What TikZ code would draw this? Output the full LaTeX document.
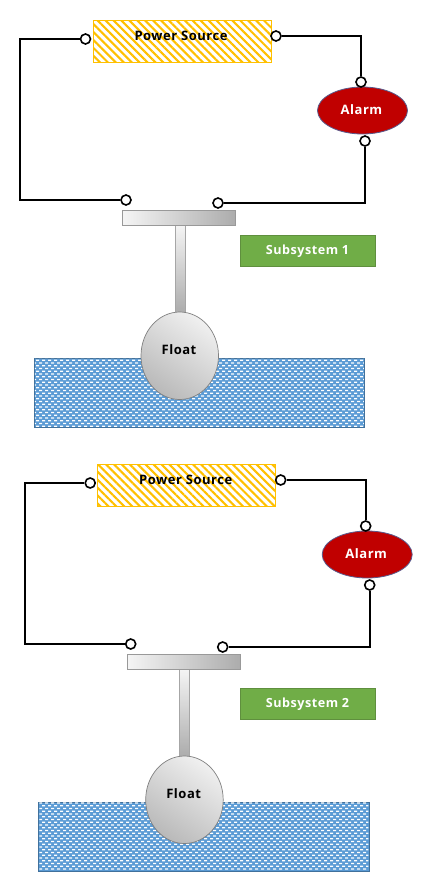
\documentclass[tikz,border=0pt]{standalone}
\usepackage{fontspec}
\setmainfont[LetterSpace=4]{Open Sans}
\usetikzlibrary{patterns,patterns.meta,shapes.geometric,calc}
\definecolor{hatchY}{HTML}{FFC000}
\definecolor{waterB}{HTML}{5B9BD5}
\definecolor{waterE}{HTML}{41719C}
\definecolor{alarmR}{HTML}{C00000}
\definecolor{alarmE}{HTML}{5A5A8C}
\definecolor{subG}{HTML}{70AD47}
\definecolor{subE}{HTML}{5F8F3E}
\pgfdeclarepatternformonly{brickdots}{\pgfqpoint{-1pt}{-1pt}}{\pgfqpoint{7pt}{7pt}}{\pgfqpoint{6pt}{5.5pt}}{%
  \pgfpathrectangle{\pgfqpoint{0pt}{0pt}}{\pgfqpoint{3.2pt}{1.3pt}}%
  \pgfpathrectangle{\pgfqpoint{3pt}{2.75pt}}{\pgfqpoint{3.2pt}{1.3pt}}%
  \pgfusepath{fill}}
\tikzset{
  x=1pt,y=-1pt,
  wire/.style={line width=1.7pt,black},
  term/.style={circle,draw=black,line width=1.6pt,fill=white,minimum size=10pt,inner sep=0pt},
  powerbox/.style={rectangle,draw=hatchY,line width=.8pt,minimum width=178pt,minimum height=41.5pt,inner sep=0pt,
    pattern={Lines[angle=-45,distance=5.6pt,line width=2.1pt]},pattern color=hatchY},
  alarmnode/.style={ellipse,draw=alarmE,line width=.8pt,fill=alarmR,minimum width=90pt,minimum height=47pt,inner sep=0pt},
  barnode/.style={rectangle,draw=gray!80,line width=.6pt,left color=gray!8,right color=gray!65,minimum width=113pt,minimum height=15pt,inner sep=0pt},
  stemnode/.style={rectangle,draw=gray!70,line width=.5pt,top color=gray!8,bottom color=gray!65,minimum width=10pt,minimum height=87pt,inner sep=0pt},
  floatnode/.style={ellipse,draw=gray,line width=.7pt,top color=gray!12,bottom color=gray!55,shading angle=-35,minimum width=77.5pt,minimum height=87.5pt,inner sep=0pt},
  waterbox/.style={rectangle,draw=waterE,line width=.8pt,fill=waterB,minimum width=330.5pt,minimum height=69pt,inner sep=0pt},
  waterdots/.style={rectangle,minimum width=329pt,minimum height=67.5pt,inner sep=0pt,pattern=brickdots,pattern color=white},
  subbox/.style={rectangle,draw=subE,line width=.8pt,fill=subG,minimum width=135.5pt,minimum height=31pt,inner sep=0pt},
  boldlabel/.style={font=\fontsize{13}{14}\bfseries,inner sep=0pt},
  whitelabel/.style={boldlabel,text=white},
  sublabel/.style={font=\fontsize{12.6}{14}\bfseries,inner sep=0pt,text=white}
}
\newcommand{\subsys}[3]{%
 \begin{scope}[shift={(#2,#3)}]
  \node[waterbox] (#1water) at (199.25,392.5) {};
  \node[waterdots] (#1dots) at (199.25,392.5) {};
  \node[stemnode] (#1stem) at (180,268.5) {};
  \node[barnode] (#1bar) at (179,217.5) {};
  \node[floatnode] (#1float) at (179.75,355.75) {};
  \node[boldlabel] (#1flabel) at (179,349.5) {Float};
  \node[powerbox] (#1power) at (182,41.25) {};
  \node[boldlabel] (#1plabel) at (181,35.5) {Power Source};
  \node[alarmnode] (#1alarm) at (362.5,110.5) {};
  \node[whitelabel] (#1alabel) at (361.5,110) {Alarm};
  \node[term] (#1pl) at (85.5,39) {};
  \node[term] (#1pr) at (276,36) {};
  \node[term] (#1at) at (361,82) {};
  \node[term] (#1ab) at (365,141) {};
  \node[term] (#1sl) at (126,200) {};
  \node[term] (#1sr) at (218,203) {};
  \coordinate (#1c1) at (20,39);
  \coordinate (#1c2) at (20,200);
  \draw[wire] (#1pl) -- (#1c1) -- (#1c2) -- (#1sl);
  \draw[wire] (#1pr) -| (#1at);
  \draw[wire] (#1ab) |- (#1sr);
 \end{scope}}
\begin{document}
\begin{tikzpicture}
\useasboundingbox (0,0) rectangle (423,889);
\fill[white] (0,0) rectangle (423,889);
\subsys{a}{0}{0}
\subsys{b}{4.7}{444}
\node[subbox] (s1) at (307.75,250.5) {};
\node[sublabel] (s1l) at (307.5,251) {Subsystem 1};
\node[subbox] (s2) at (307.75,703.5) {};
\node[sublabel] (s2l) at (307.5,704) {Subsystem 2};
\end{tikzpicture}
\end{document}
